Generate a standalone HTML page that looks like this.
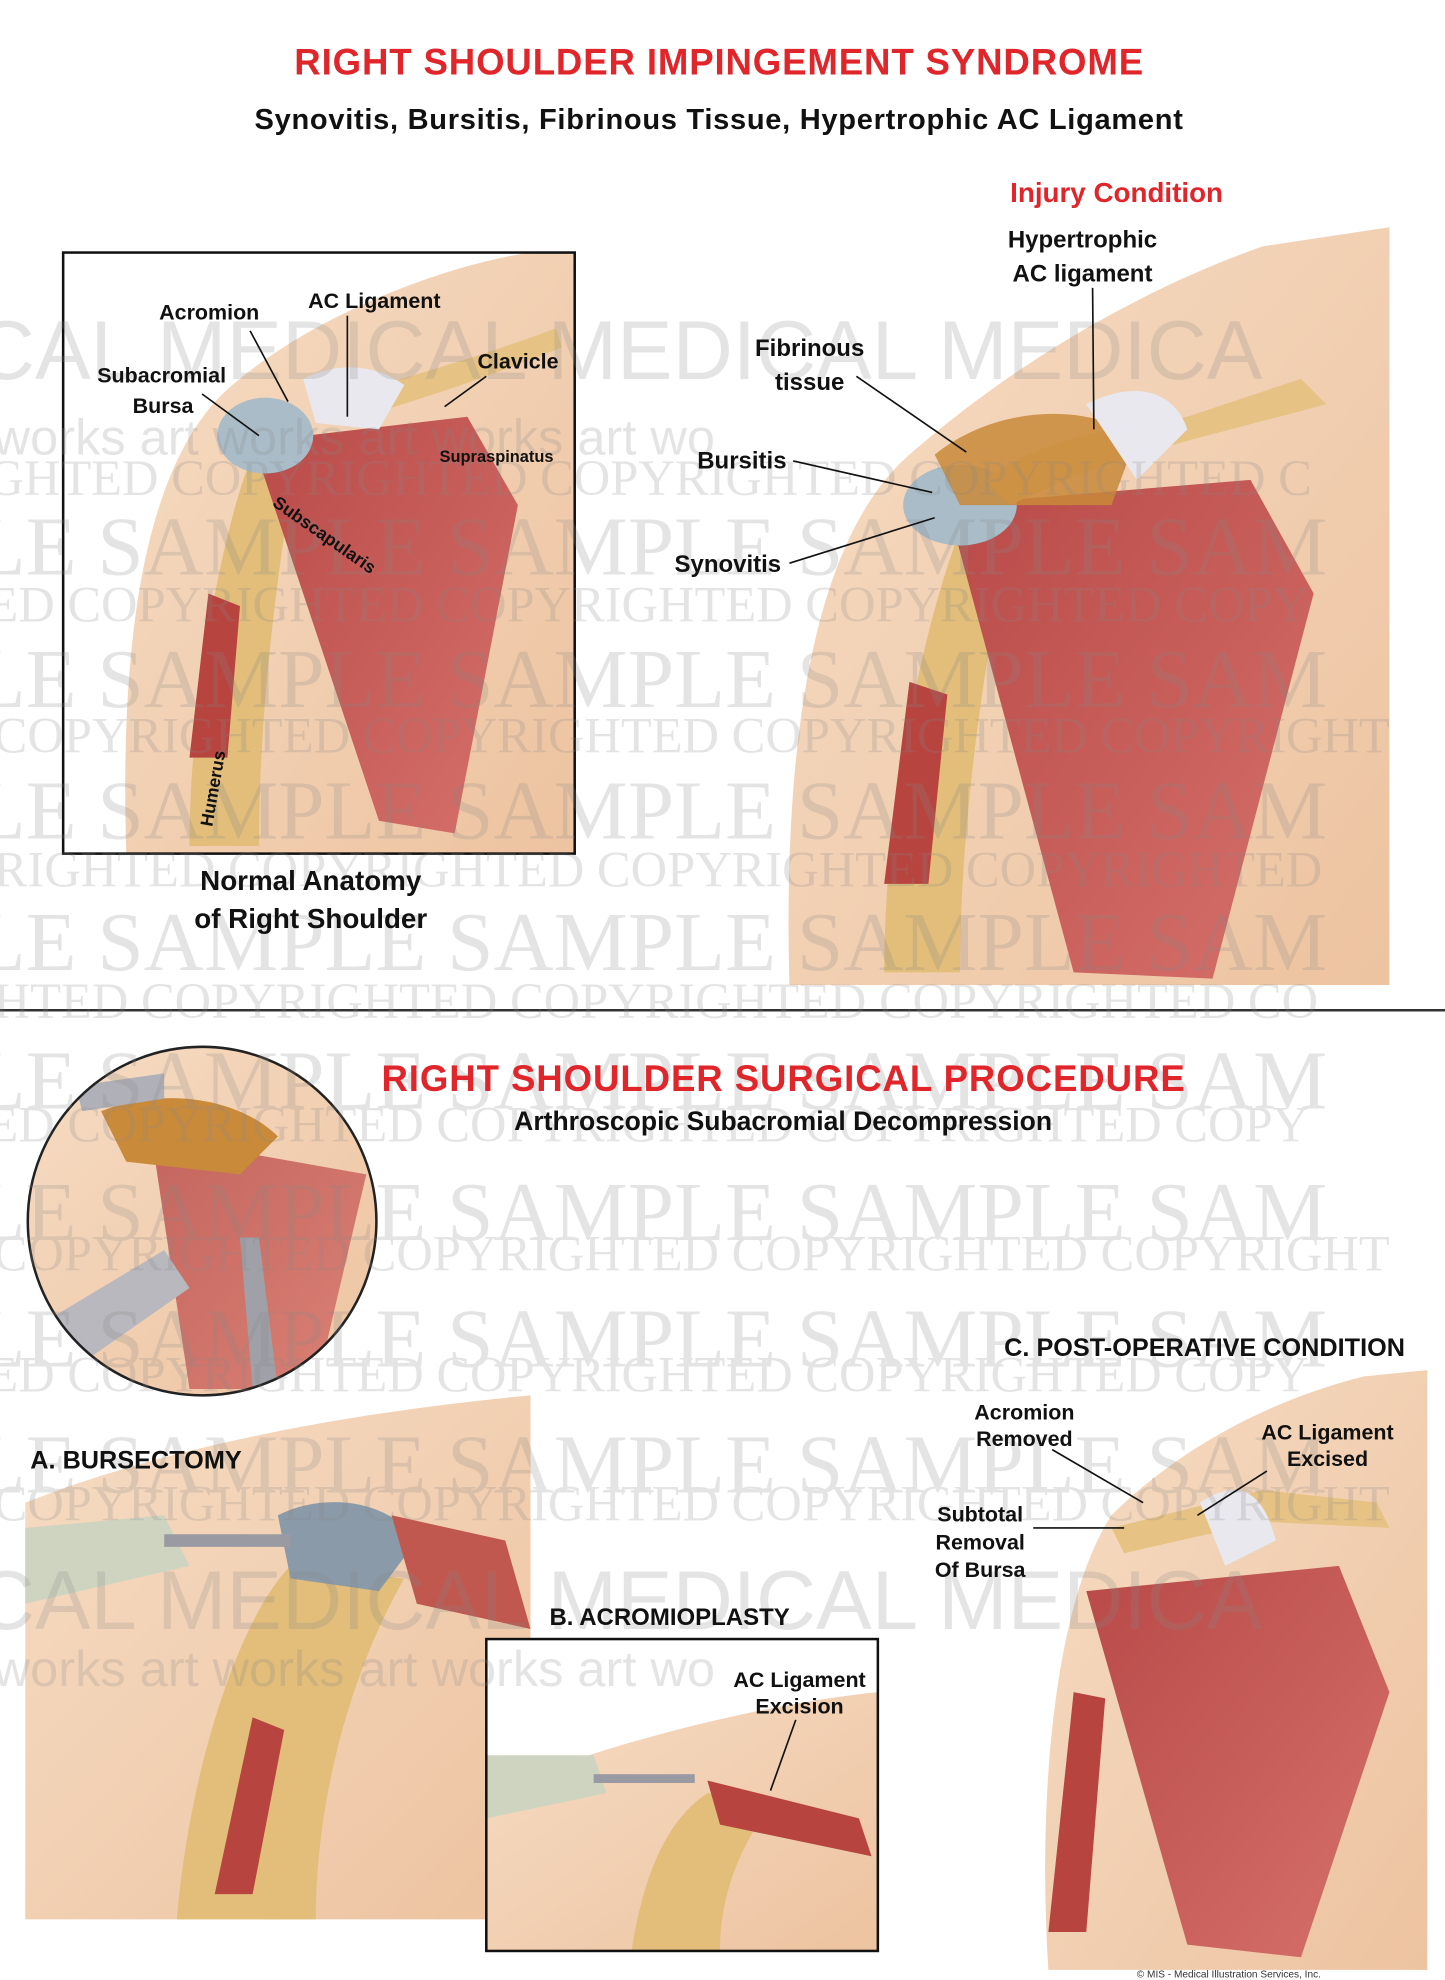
<!DOCTYPE html>
<html><head><meta charset="utf-8"><style>
html,body{margin:0;padding:0;background:#fff;width:1445px;height:1980px;overflow:hidden}
svg{display:block}
.s{font-family:"Liberation Sans",Arial,sans-serif}
.wm{font-family:"Liberation Serif",serif}
</style></head><body>
<svg width="1445" height="1980" viewBox="0 0 1144 1568" preserveAspectRatio="none" xmlns="http://www.w3.org/2000/svg">
<defs>
<linearGradient id="skin" x1="0" y1="0" x2="1" y2="1"><stop offset="0" stop-color="#f6dcc4"/><stop offset="1" stop-color="#edc3a0"/></linearGradient>
<linearGradient id="mus" x1="0" y1="0" x2="1" y2="1"><stop offset="0" stop-color="#b84a48"/><stop offset="1" stop-color="#d6706a"/></linearGradient>
</defs>
<rect width="1144" height="1568" fill="#fff"/>
<g>
<path d="M100,676 C95,520 110,360 190,300 C250,250 350,210 420,200 L455,200 L455,676 Z" fill="url(#skin)"/>
<path d="M150,670 C150,560 175,420 200,360 L235,360 C220,450 205,560 205,670 Z" fill="#e2be7a"/>
<path d="M150,600 L165,470 L190,480 L180,600 Z" fill="#b7443f"/>
<path d="M200,350 L370,330 L410,400 L360,660 L300,650 Z" fill="url(#mus)"/>
<ellipse cx="210" cy="345" rx="38" ry="30" fill="#a9bcc8"/>
<path d="M260,320 C310,300 360,290 440,260 L445,275 C370,305 320,320 270,335 Z" fill="#e6c384"/>
<path d="M240,300 C270,285 300,290 320,305 L300,340 L250,335 Z" fill="#e8e8ee"/>
<rect x="50" y="200" width="405" height="476" fill="none" stroke="#111" stroke-width="2"/>
</g>
<g>
<path d="M625,780 C620,600 640,430 720,360 C800,290 900,230 1000,195 L1100,180 L1100,780 Z" fill="url(#skin)"/>
<path d="M700,770 C700,640 730,500 760,420 L800,420 C780,520 760,650 760,770 Z" fill="#e2be7a"/>
<path d="M700,700 L720,540 L750,550 L735,700 Z" fill="#b7443f"/>
<path d="M750,400 L990,380 L1040,470 L960,775 L850,770 Z" fill="url(#mus)"/>
<ellipse cx="760" cy="400" rx="45" ry="32" fill="#a9bcc8"/>
<path d="M780,380 C820,350 870,340 940,330 L1030,300 L1050,320 C960,345 880,360 800,400 Z" fill="#e6c384"/>
<path d="M740,360 C790,320 860,320 900,345 L880,400 L760,400 Z" fill="#c98a3a" opacity=".85"/>
<path d="M860,320 C900,300 930,310 940,340 L900,380 Z" fill="#e8e8ee"/>
</g>
<line x1="0" y1="800" x2="1144" y2="800" stroke="#333" stroke-width="2"/>
<g>
<clipPath id="cc"><circle cx="160" cy="967" r="138"/></clipPath>
<g clip-path="url(#cc)">
<rect x="20" y="829" width="280" height="276" fill="url(#skin)"/>
<path d="M120,900 L290,930 L250,1100 L150,1100 Z" fill="url(#mus)" opacity=".8"/>
<path d="M80,880 C130,860 190,870 220,900 L190,930 L100,920 Z" fill="#c98a3a"/>
<path d="M30,1050 L130,990 L150,1020 L50,1090 Z" fill="#b8b8be"/>
<path d="M190,980 L205,980 L220,1100 L200,1100 Z" fill="#a0a0a8"/>
<path d="M60,860 L130,850 L130,870 L65,880 Z" fill="#b0b0b8"/>
</g>
<circle cx="160" cy="967" r="138" fill="none" stroke="#222" stroke-width="2"/>
</g>
<g>
<path d="M20,1520 L20,1190 C120,1150 260,1120 420,1105 L420,1520 Z" fill="url(#skin)"/>
<path d="M140,1520 C150,1400 190,1280 230,1240 L320,1250 C280,1320 250,1420 250,1520 Z" fill="#e2be7a"/>
<path d="M170,1500 L200,1360 L225,1370 L200,1500 Z" fill="#b7443f"/>
<path d="M220,1200 C260,1180 310,1190 330,1220 L300,1260 L230,1250 Z" fill="#8a9aa8"/>
<path d="M310,1200 L400,1220 L420,1290 L330,1270 Z" fill="#c0584f"/>
<path d="M20,1210 L130,1200 L150,1240 L20,1270 Z" fill="#cfd4c0"/>
<rect x="130" y="1215" width="100" height="10" fill="#9a9aa2"/>
</g>
<g>
<rect x="385" y="1298" width="310" height="247" fill="#fff"/>
<path d="M385,1545 L385,1420 C480,1380 600,1350 695,1340 L695,1545 Z" fill="url(#skin)"/>
<path d="M500,1545 C510,1480 530,1440 560,1420 L610,1430 C580,1470 570,1510 570,1545 Z" fill="#e2be7a"/>
<path d="M560,1410 L680,1440 L690,1470 L570,1445 Z" fill="#b7443f"/>
<path d="M385,1390 L470,1390 L480,1420 L385,1440 Z" fill="#cfd4c0"/>
<rect x="470" y="1405" width="80" height="7" fill="#9a9aa2"/>
<rect x="385" y="1298" width="310" height="247" fill="none" stroke="#111" stroke-width="2"/>
</g>
<g>
<path d="M830,1560 C820,1400 840,1260 880,1200 C930,1150 1000,1110 1080,1090 L1130,1085 L1130,1560 Z" fill="url(#skin)"/>
<path d="M830,1530 L850,1340 L875,1345 L860,1530 Z" fill="#b7443f"/>
<path d="M860,1260 L1060,1240 L1100,1340 L1030,1550 L940,1540 Z" fill="url(#mus)"/>
<path d="M880,1210 L1000,1180 L1090,1190 L1100,1210 L1000,1205 L890,1230 Z" fill="#e6c384"/>
<path d="M950,1190 C980,1170 1000,1180 1010,1220 L970,1240 Z" fill="#e8e8ee"/>
</g>
<g class="wm" style="font-family:'Liberation Serif',serif" fill="#888" opacity=".22" font-size="40">
<text x="-10" y="392">GHTED    COPYRIGHTED    COPYRIGHTED   COPYRIGHTED   C</text>
<text x="-20" y="455" font-size="66">LE  SAMPLE  SAMPLE  SAMPLE  SAM</text>
<text x="-10" y="492">ED   COPYRIGHTED   COPYRIGHTED   COPYRIGHTED   COPY</text>
<text x="-20" y="560" font-size="66">LE  SAMPLE  SAMPLE  SAMPLE  SAM</text>
<text x="-5" y="596">COPYRIGHTED   COPYRIGHTED   COPYRIGHTED   COPYRIGHT</text>
<text x="-20" y="664" font-size="66">LE  SAMPLE  SAMPLE  SAMPLE  SAM</text>
<text x="-5" y="702">RIGHTED   COPYRIGHTED   COPYRIGHTED   COPYRIGHTED</text>
<text x="-20" y="768" font-size="66">LE  SAMPLE  SAMPLE  SAMPLE  SAM</text>
<text x="-5" y="806">HTED   COPYRIGHTED   COPYRIGHTED   COPYRIGHTED   CO</text>
<text x="-20" y="878" font-size="66">LE  SAMPLE  SAMPLE  SAMPLE  SAM</text>
<text x="-10" y="904">ED   COPYRIGHTED   COPYRIGHTED   COPYRIGHTED   COPY</text>
<text x="-20" y="982" font-size="66">LE  SAMPLE  SAMPLE  SAMPLE  SAM</text>
<text x="-5" y="1006">COPYRIGHTED   COPYRIGHTED   COPYRIGHTED   COPYRIGHT</text>
<text x="-20" y="1082" font-size="66">LE  SAMPLE  SAMPLE  SAMPLE  SAM</text>
<text x="-10" y="1102">ED   COPYRIGHTED   COPYRIGHTED   COPYRIGHTED   COPY</text>
<text x="-20" y="1182" font-size="66">LE  SAMPLE  SAMPLE  SAMPLE  SAM</text>
<text x="-5" y="1204">COPYRIGHTED   COPYRIGHTED   COPYRIGHTED   COPYRIGHT</text>
</g>
<g class="s" fill="#888" opacity=".22" font-size="40">
<text x="-20" y="300" font-size="66">CAL MEDICAL MEDICAL MEDICA</text>
<text x="-20" y="1290" font-size="66">CAL MEDICAL MEDICAL MEDICA</text>
<text x="-5" y="360">works      art works       art works      art wo</text>
<text x="-5" y="1335">works      art works       art works      art wo</text>
</g>
<g class="s">
<text x="569" y="59" text-anchor="middle" font-size="29" font-weight="bold" fill="#e0262b" textLength="672">RIGHT SHOULDER IMPINGEMENT SYNDROME</text>
<text x="569" y="102" text-anchor="middle" font-size="23" font-weight="bold" fill="#111" textLength="735">Synovitis, Bursitis, Fibrinous Tissue, Hypertrophic AC Ligament</text>
<text x="884" y="160" text-anchor="middle" font-size="22" font-weight="bold" fill="#e0262b">Injury Condition</text>
<text x="620" y="864" text-anchor="middle" font-size="29" font-weight="bold" fill="#e0262b" textLength="636">RIGHT SHOULDER SURGICAL PROCEDURE</text>
<text x="620" y="895" text-anchor="middle" font-size="21" font-weight="bold" fill="#111">Arthroscopic Subacromial Decompression</text>
</g>
<g class="s" font-size="17" font-weight="bold" fill="#111">
<text x="126" y="253">Acromion</text>
<text x="244" y="244">AC Ligament</text>
<text x="378" y="292">Clavicle</text>
<text x="77" y="303">Subacromial</text>
<text x="105" y="327">Bursa</text>
<text x="348" y="366" font-size="13">Supraspinatus</text>
<text x="215" y="400" font-size="14" transform="rotate(35 215 400)">Subscapularis</text>
<text x="168" y="655" font-size="14" transform="rotate(-80 168 655)">Humerus</text>
<text x="246" y="705" text-anchor="middle" font-size="22">Normal Anatomy</text>
<text x="246" y="735" text-anchor="middle" font-size="22">of Right Shoulder</text>
<text x="857" y="196" text-anchor="middle" font-size="19">Hypertrophic</text>
<text x="857" y="223" text-anchor="middle" font-size="19">AC ligament</text>
<text x="641" y="282" text-anchor="middle" font-size="19">Fibrinous</text>
<text x="641" y="309" text-anchor="middle" font-size="19">tissue</text>
<text x="552" y="371" font-size="19">Bursitis</text>
<text x="534" y="453" font-size="19">Synovitis</text>
<text x="24" y="1163" font-size="20">A. BURSECTOMY</text>
<text x="435" y="1287" font-size="19">B. ACROMIOPLASTY</text>
<text x="633" y="1336" text-anchor="middle" font-size="17">AC Ligament</text>
<text x="633" y="1357" text-anchor="middle" font-size="17">Excision</text>
<text x="795" y="1074" font-size="20">C. POST-OPERATIVE CONDITION</text>
<text x="811" y="1124" text-anchor="middle" font-size="17">Acromion</text>
<text x="811" y="1145" text-anchor="middle" font-size="17">Removed</text>
<text x="1051" y="1140" text-anchor="middle" font-size="17">AC Ligament</text>
<text x="1051" y="1161" text-anchor="middle" font-size="17">Excised</text>
<text x="776" y="1205" text-anchor="middle" font-size="17">Subtotal</text>
<text x="776" y="1227" text-anchor="middle" font-size="17">Removal</text>
<text x="776" y="1249" text-anchor="middle" font-size="17">Of Bursa</text>
</g>
<g stroke="#111" stroke-width="1.3" fill="none">
<line x1="198" y1="262" x2="228" y2="318"/>
<line x1="275" y1="250" x2="275" y2="330"/>
<line x1="385" y1="298" x2="352" y2="322"/>
<line x1="160" y1="312" x2="205" y2="345"/>
<line x1="865" y1="228" x2="866" y2="340"/>
<line x1="678" y1="298" x2="765" y2="358"/>
<line x1="628" y1="365" x2="738" y2="390"/>
<line x1="625" y1="446" x2="740" y2="410"/>
<line x1="833" y1="1148" x2="905" y2="1190"/>
<line x1="1003" y1="1165" x2="948" y2="1200"/>
<line x1="818" y1="1210" x2="890" y2="1210"/>
<line x1="630" y1="1362" x2="610" y2="1418"/>
</g>
<text class="s" x="900" y="1566" font-size="8" fill="#333">© MIS - Medical Illustration Services, Inc.</text>
</svg>
</body></html>
